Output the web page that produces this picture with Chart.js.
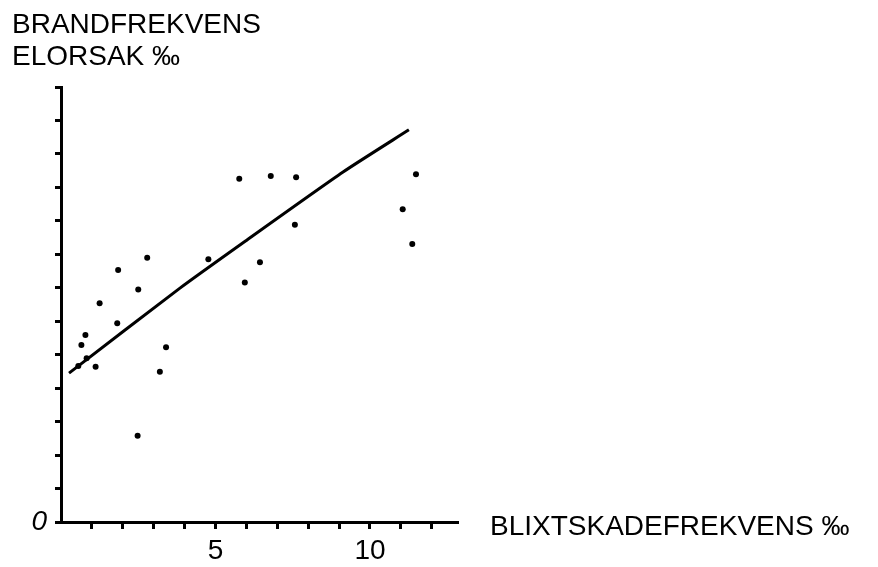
<!DOCTYPE html>
<html>
<head>
<meta charset="utf-8">
<title>Brandfrekvens elorsak vs blixtskadefrekvens</title>
<script src="https://cdn.jsdelivr.net/npm/chart.js@4"></script>
<style>
  html, body { margin: 0; padding: 0; background: #fff; }
  #wrap { width: 878px; height: 567px; position: relative; }
</style>
</head>
<body>
<div id="wrap"><canvas id="chart" width="878" height="567"></canvas></div>
<script>
// --- data (axis units: x in ‰, y in tick steps) ---
const pointX = [0.56, 0.66, 0.79, 0.83, 1.12, 1.25, 1.82, 1.85, 2.48, 2.50, 2.79, 3.20,
                3.40, 4.77, 5.77, 5.95, 6.44, 6.79, 7.57, 7.61, 11.06, 11.37, 11.49];
const pointY = [4.66, 5.29, 5.59, 4.89, 4.64, 6.54, 5.94, 7.53, 2.58, 6.95, 7.90, 4.49,
                5.22, 7.85, 10.26, 7.16, 7.76, 10.34, 8.88, 10.30, 9.35, 8.31, 10.39];

// fitted trend line
const lineX = [0.26, 3.85, 6.02, 9.13, 11.26];
const lineY = [4.45, 6.99, 8.43, 10.46, 11.72];

const xLabels = { 5: '5', 10: '10' };
const yLabels = { 0: '0' };

const yTitle = ['BRANDFREKVENS', 'ELORSAK ‰'];
const xTitle = 'BLIXTSKADEFREKVENS ‰';

const FONT = '"Liberation Sans", "DejaVu Sans", sans-serif';

// --- axis titles drawn outside the plot area ---
const titles = {
  id: 'titles',
  afterDraw(chart) {
    const ctx = chart.ctx;
    ctx.save();
    ctx.fillStyle = '#000';
    ctx.font = '28px ' + FONT;
    ctx.textBaseline = 'alphabetic';
    ctx.textAlign = 'left';
    ctx.fillText(yTitle[0], 12, 33);
    ctx.fillText(yTitle[1], 12, 65);
    ctx.fillText(xTitle, 490, 535);
    ctx.restore();
  }
};

const toPts = (xs, ys) => xs.map((x, i) => ({ x: x, y: ys[i] }));

new Chart(document.getElementById('chart'), {
  type: 'scatter',
  data: {
    datasets: [
      {
        data: toPts(pointX, pointY),
        backgroundColor: '#000',
        borderColor: '#000',
        pointRadius: 3,
        pointBorderWidth: 0
      },
      {
        data: toPts(lineX, lineY),
        showLine: true,
        borderColor: '#000',
        borderWidth: 3,
        pointRadius: 0,
        tension: 0.2,
        fill: false
      }
    ]
  },
  options: {
    responsive: false,
    animation: false,
    layout: { padding: { top: 87, right: 420, bottom: 0, left: 0 } },
    plugins: { legend: { display: false }, tooltip: { enabled: false } },
    scales: {
      x: {
        type: 'linear',
        min: 0,
        max: 12.85,
        afterFit(scale) { scale.height = 45; },
        afterBuildTicks(scale) {
          scale.ticks = [];
          for (let v = 1; v <= 12; v++) scale.ticks.push({ value: v });
        },
        ticks: {
          autoSkip: false,
          color: '#000',
          padding: 5,
          maxRotation: 0,
          font: { family: FONT, size: 28 },
          callback: v => xLabels[v] || ''
        },
        grid: { drawOnChartArea: false, color: '#000', tickLength: 7, tickWidth: 3 },
        border: { color: '#000', width: 3 }
      },
      y: {
        type: 'linear',
        min: 0,
        max: 13,
        afterFit(scale) { scale.width = 61; },
        afterBuildTicks(scale) {
          scale.ticks = [];
          for (let v = 0; v <= 13; v++) scale.ticks.push({ value: v });
        },
        ticks: {
          autoSkip: false,
          color: '#000',
          padding: 8,
          font: { family: FONT, size: 28, style: 'italic' },
          callback: v => yLabels[v] || ''
        },
        grid: { drawOnChartArea: false, color: '#000', tickLength: 6, tickWidth: 3 },
        border: { color: '#000', width: 3 }
      }
    }
  },
  plugins: [titles]
});
</script>
</body>
</html>
